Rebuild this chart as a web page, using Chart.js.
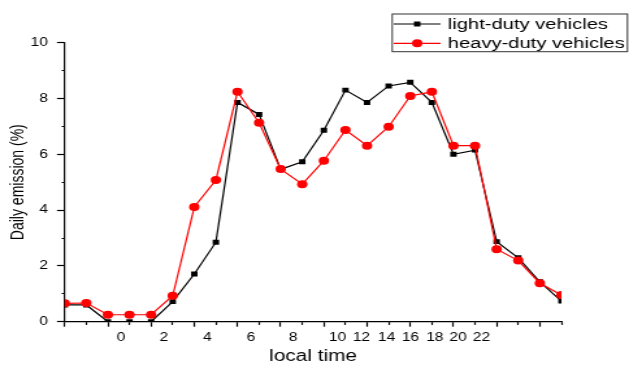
<!DOCTYPE html>
<html><head><meta charset="utf-8">
<script src="https://cdn.jsdelivr.net/npm/chart.js@4/dist/chart.umd.min.js"></script>
<style>
html,body{margin:0;padding:0;background:#fff;overflow:hidden}
#wrap{position:absolute;left:0;top:0;width:484px;height:365px;transform:scaleX(1.2996);transform-origin:0 0}
</style></head><body>
<div id="wrap"><canvas id="c"></canvas></div>
<script>
// hour slots (x index of each point)
const slots = [0,1,2,3,4,5,6,7,8,9,10,11,12,13,14,15,16,17,18,19,20,21,22,23];
const lightDuty = [0.6,0.6,0,0,0,0.72,1.71,2.85,7.86,7.43,5.46,5.73,6.86,8.30,7.86,8.45,8.58,7.86,6.0,6.15,2.87,2.29,1.43,0.74];
const heavyDuty = [0.66,0.67,0.25,0.25,0.25,0.93,4.11,5.08,8.24,7.13,5.47,4.93,5.77,6.87,6.31,6.99,8.09,8.24,6.31,6.31,2.6,2.19,1.38,0.96];
// x tick labels and where they sit on the slot scale
const xLabelText = ['0','2','4','6','8','10','12','14','16','18','20','22'];
const xLabelAt = [2.605,4.595,6.6,8.62,10.58,12.63,13.74,14.9,16.01,17.14,18.21,19.3];
const yTicks = [0,2,4,6,8,10];

const FONT = 'Liberation Sans, Arial, sans-serif';

const boxLegend = {
  id: 'boxLegend',
  afterDraw(chart) {
    const ctx = chart.ctx;
    const bx = 301.8, by = 14, bw = 181, bh = 37.7;
    ctx.save();
    ctx.fillStyle = '#fff';
    ctx.fillRect(bx, by, bw, bh);
    ctx.strokeStyle = '#333';
    ctx.lineWidth = 1;
    ctx.strokeRect(bx, by, bw, bh);
    const rows = [24, 43.3];
    chart.data.datasets.forEach((ds, i) => {
      const y = rows[i];
      ctx.strokeStyle = ds.borderColor;
      ctx.lineWidth = ds.borderWidth;
      ctx.beginPath(); ctx.moveTo(303, y); ctx.lineTo(339, y); ctx.stroke();
      ctx.fillStyle = ds.pointBackgroundColor;
      ctx.strokeStyle = ds.pointBorderColor;
      Chart.helpers.drawPoint(ctx, {pointStyle: ds.pointStyle, radius: ds.pointRadius, rotation: 0, borderWidth: 0}, 321, y);
      ctx.fillStyle = '#000';
      ctx.font = '15.5px ' + FONT;
      ctx.textBaseline = 'middle';
      ctx.textAlign = 'left';
      ctx.fillText(ds.label, 344.6, y + 0.5);
    });
    ctx.restore();
  }
};

new Chart(document.getElementById('c'), {
  type: 'line',
  data: {
    datasets: [
      {label: 'light-duty vehicles', data: slots.map((s, i) => ({x: s, y: lightDuty[i]})),
       borderColor: '#000', borderWidth: 1.2, pointStyle: 'rect', pointRadius: 3.5,
       pointBackgroundColor: '#000', pointBorderColor: '#000', pointBorderWidth: 0, order: 1, tension: 0},
      {label: 'heavy-duty vehicles', data: slots.map((s, i) => ({x: s, y: heavyDuty[i]})),
       borderColor: '#ff0000', borderWidth: 1.2, pointStyle: 'circle', pointRadius: 4,
       pointBackgroundColor: '#ff0000', pointBorderColor: '#ff0000', pointBorderWidth: 0, order: 0, tension: 0}
    ]
  },
  options: {
    responsive: true, maintainAspectRatio: false, animation: false,
    devicePixelRatio: 1,
    layout: {padding: {left: 0, top: 42.7, right: 52, bottom: 0}},
    plugins: {legend: {display: false}, tooltip: {enabled: false}},
    scales: {
      x: {
        type: 'linear', min: 0, max: 23,
        afterBuildTicks: s => {
          s.ticks = slots.map(v => ({value: v})).concat(xLabelAt.map(v => ({value: v})));
        },
        ticks: {
          autoSkip: false, maxRotation: 0, padding: 4, color: '#000',
          font: {family: FONT, size: 12},
          callback: (v, i) => i >= slots.length ? xLabelText[i - slots.length] : ''
        },
        grid: {
          drawOnChartArea: false, tickLength: 5, tickWidth: 1.2,
          tickColor: c => (c.index >= slots.length ? 'rgba(0,0,0,0)' : '#000'),
          tickBorderDash: c => (c.index < slots.length && slots[c.index] % 2 === 1 ? [2.7, 50] : [])
        },
        border: {color: '#000', width: 1.2},
        title: {display: true, text: 'local time', color: '#000',
                font: {family: FONT, size: 16, lineHeight: 1}, padding: {top: 0, bottom: 0}},
        afterFit: s => { s.height = 43.3; }
      },
      y: {
        min: 0, max: 10,
        ticks: {
          stepSize: 1, autoSkip: false, padding: 7, color: '#000',
          font: {family: FONT, size: 12},
          callback: v => (yTicks.includes(v) ? String(v) : '')
        },
        grid: {
          drawOnChartArea: false, tickLength: 6, tickWidth: 1.2, tickColor: '#000',
          tickBorderDash: c => (c.tick && !yTicks.includes(c.tick.value) ? [0, 3.7, 2.3, 50] : [])
        },
        border: {color: '#000', width: 1.2},
        title: {display: true, text: 'Daily emission (%)', color: '#000',
                font: {family: FONT, size: 14, lineHeight: 1}, padding: {top: 7, bottom: 0}},
        afterFit: s => { s.width = 49.8; }
      }
    }
  },
  plugins: [boxLegend]
});
</script>
</body></html>
